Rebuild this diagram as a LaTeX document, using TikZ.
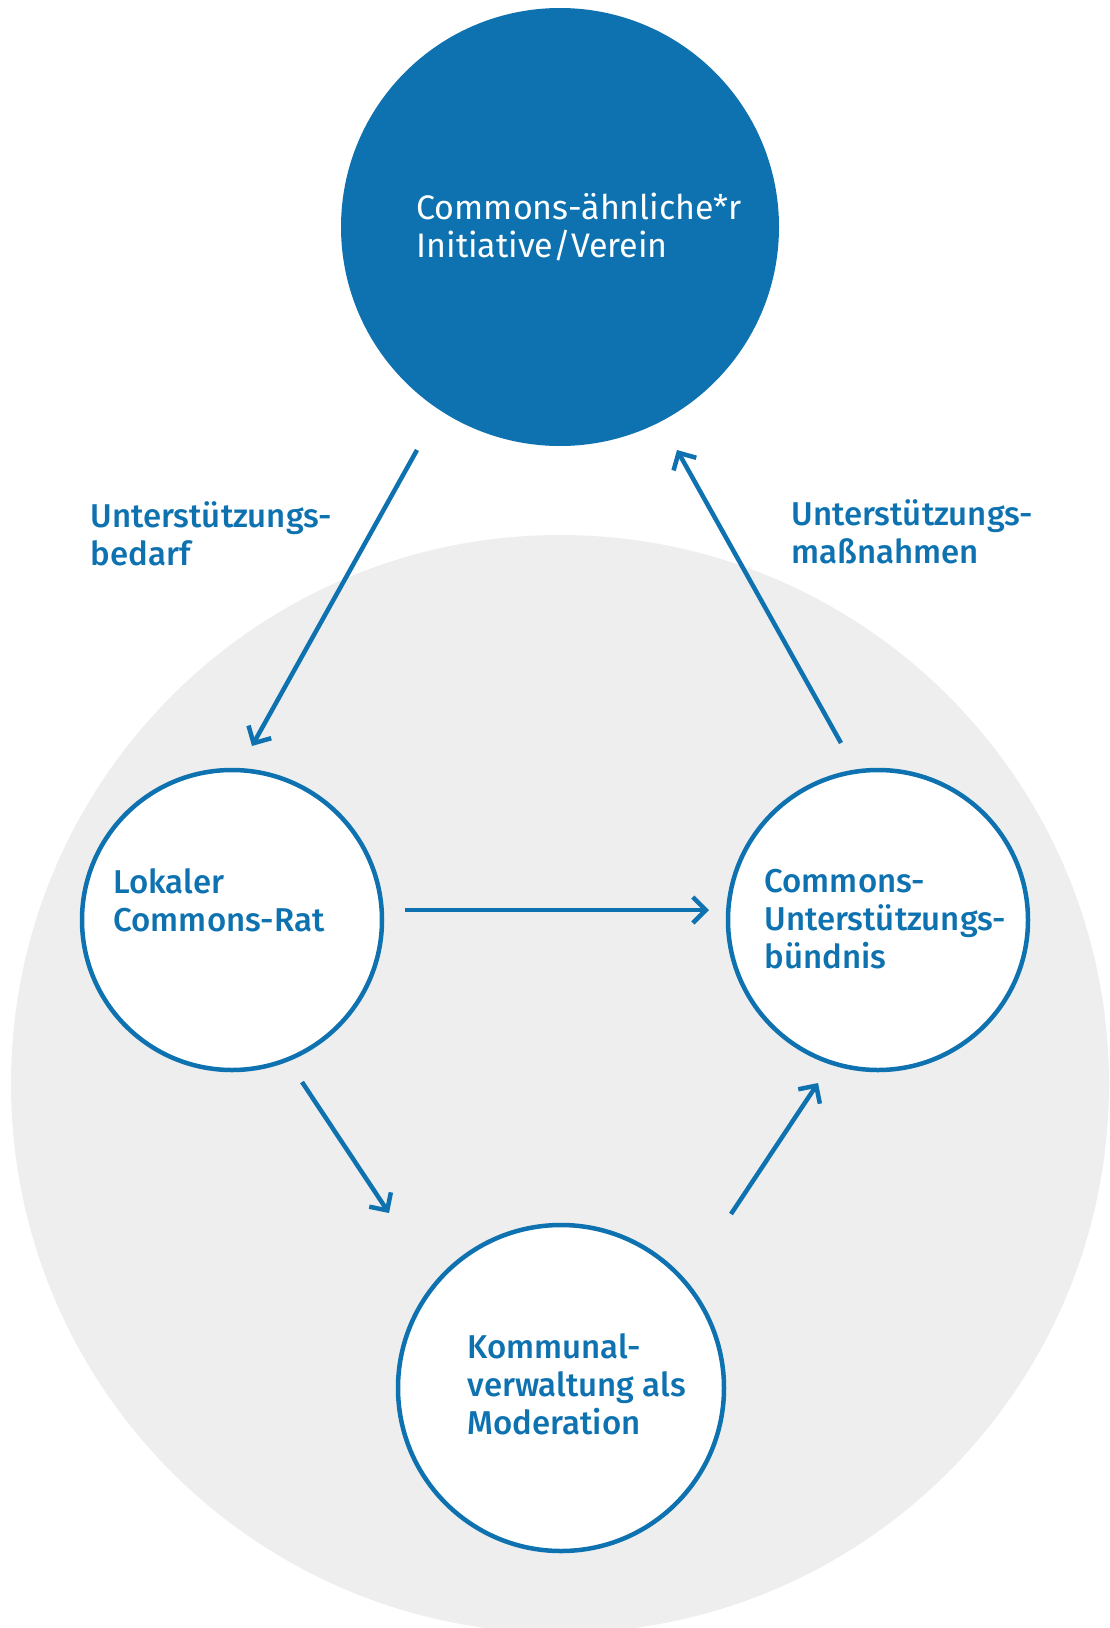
\documentclass[tikz,border=0pt]{standalone}
\usepackage{fontspec}
\setmainfont{Fira Sans}
\newfontfamily\medfont{Fira Sans Medium}
\usetikzlibrary{arrows.meta}
\definecolor{commonsblue}{HTML}{0E72B0}
\definecolor{lightgrey}{HTML}{EEEEEE}
\tikzset{
  rolle/.style={circle, draw=commonsblue, line width=4.5pt, fill=white, inner sep=0pt},
  rolletext/.style={anchor=west, align=left, text=commonsblue, font=\medfont\fontsize{33}{38}\selectfont},
  fluss/.style={draw=commonsblue, line width=4.5pt, -{Straight Barb[length=13pt,width=26pt,line width=4.5pt]}}
}
\begin{document}
\begin{tikzpicture}[x=1pt,y=-1pt]
        \useasboundingbox (0,0) rectangle (1109,1628);
        \begin{scope}
        \clip (0,0) rectangle (1109,1628);
        \fill[lightgrey] (560,1084) circle (549);
        \end{scope}

        % Initiative oben
        \node[circle, fill=commonsblue, minimum size=438pt, inner sep=0pt] (ini) at (560,227) {};
        \node[rolletext, text=white, font=\fontsize{34}{38}\selectfont] (initext) at (413,227) {Commons-ähnliche*r\\Initiative/Verein};

        % die drei Kreise
        \node[rolle, minimum size=300pt] (rat) at (232,920) {};
        \node[rolletext] (rattext) at (110,900) {Lokaler\\Commons-Rat};

        \node[rolle, minimum size=300pt] (buendnis) at (878,920) {};
        \node[rolletext] (buendnistext) at (761,919) {Commons-\\Unterstützungs-\\bündnis};

        \node[rolle, minimum size=326pt] (kommune) at (561,1388) {};
        \node[rolletext] (kommunetext) at (464,1384) {Kommunal-\\verwaltung als\\Moderation};

        % Beschriftungen
        \node[rolletext] (bedarf) at (87,534) {Unterstützungs-\\bedarf};
        \node[rolletext] (massnahmen) at (788,532) {Unterstützungs-\\maßnahmen};

        % Pfeile
        \coordinate (p1s) at (417,450);
        \coordinate (p1e) at (252,746);
        \coordinate (p2s) at (841,743);
        \coordinate (p2e) at (677,450);
        \coordinate (p3s) at (405,910);
        \coordinate (p3e) at (709,910);
        \coordinate (p4s) at (302,1082);
        \coordinate (p4e) at (389,1213);
        \coordinate (p5s) at (731,1214);
        \coordinate (p5e) at (818,1083);
        \draw[fluss] (p1s) -- (p1e);
        \draw[fluss] (p2s) -- (p2e);
        \draw[fluss] (p3s) -- (p3e);
        \draw[fluss] (p4s) -- (p4e);
        \draw[fluss] (p5s) -- (p5e);
\end{tikzpicture}
\end{document}
